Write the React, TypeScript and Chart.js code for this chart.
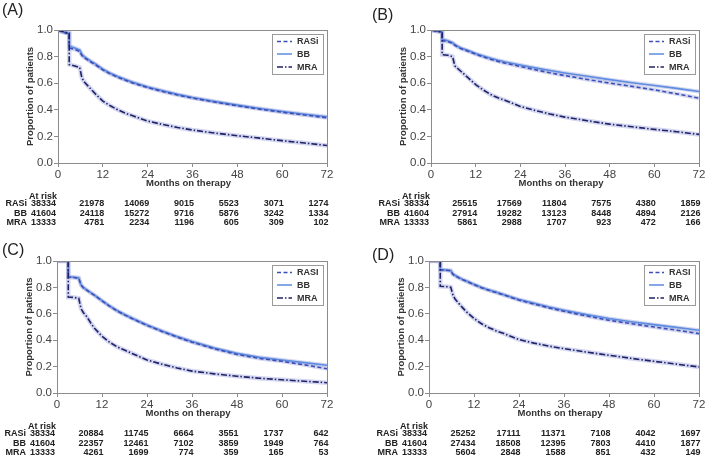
import React, { useEffect, useRef } from "react";
import { Chart, registerables } from "chart.js";
Chart.register(...registerables);

// ---------- DATA ----------
const months = [0, 1, 3, 3, 4.5, 5.8, 6.4, 7, 8, 9, 10, 12, 14, 16, 18, 20, 24, 28, 32, 36, 42, 48, 54, 60, 66, 72];
const xTicks = [0, 12, 24, 36, 48, 60, 72];
const rowNames = ["RASi", "BB", "MRA"];

// Panel A
const aRASi = [1.0, 0.985, 0.97, 0.865, 0.853, 0.84, 0.808, 0.793, 0.774, 0.756, 0.739, 0.7, 0.67, 0.645, 0.623, 0.602, 0.567, 0.538, 0.511, 0.488, 0.458, 0.43, 0.405, 0.382, 0.361, 0.34];
const aBB = [1.0, 0.99, 0.975, 0.88, 0.865, 0.85, 0.815, 0.8, 0.78, 0.762, 0.745, 0.705, 0.675, 0.65, 0.628, 0.607, 0.572, 0.543, 0.516, 0.493, 0.463, 0.435, 0.41, 0.387, 0.367, 0.348];
const aMRA = [1.0, 0.99, 0.975, 0.74, 0.73, 0.718, 0.64, 0.61, 0.58, 0.55, 0.52, 0.465, 0.43, 0.4, 0.375, 0.355, 0.315, 0.29, 0.267, 0.248, 0.225, 0.205, 0.187, 0.168, 0.15, 0.132];
const aRiskRASi = [38334, 21978, 14069, 9015, 5523, 3071, 1274];
const aRiskBB = [41604, 24118, 15272, 9716, 5876, 3242, 1334];
const aRiskMRA = [13333, 4781, 2234, 1196, 605, 309, 102];

// Panel B
const bRASi = [1.0, 0.995, 0.985, 0.92, 0.912, 0.9, 0.885, 0.875, 0.86, 0.85, 0.84, 0.818, 0.798, 0.78, 0.764, 0.75, 0.726, 0.701, 0.678, 0.657, 0.628, 0.601, 0.576, 0.55, 0.52, 0.487];
const bBB = [1.0, 0.995, 0.985, 0.93, 0.92, 0.905, 0.89, 0.88, 0.865, 0.855, 0.845, 0.823, 0.805, 0.788, 0.773, 0.76, 0.737, 0.715, 0.695, 0.677, 0.652, 0.627, 0.604, 0.583, 0.561, 0.538];
const bMRA = [1.0, 0.995, 0.985, 0.815, 0.81, 0.8, 0.73, 0.715, 0.69, 0.665, 0.64, 0.59, 0.55, 0.515, 0.49, 0.47, 0.425, 0.395, 0.368, 0.345, 0.318, 0.292, 0.272, 0.253, 0.235, 0.215];
const bRiskRASi = [38334, 25515, 17569, 11804, 7575, 4380, 1859];
const bRiskBB = [41604, 27914, 19282, 13123, 8448, 4894, 2126];
const bRiskMRA = [13333, 5861, 2988, 1707, 923, 472, 166];

// Panel C
const cRASi = [1.0, 1.0, 1.0, 0.878, 0.875, 0.87, 0.818, 0.798, 0.778, 0.758, 0.74, 0.698, 0.658, 0.622, 0.592, 0.564, 0.512, 0.466, 0.424, 0.385, 0.335, 0.292, 0.262, 0.24, 0.213, 0.184];
const cBB = [1.0, 1.0, 1.0, 0.88, 0.877, 0.872, 0.82, 0.8, 0.78, 0.76, 0.742, 0.7, 0.66, 0.625, 0.595, 0.567, 0.515, 0.47, 0.428, 0.39, 0.34, 0.3, 0.27, 0.25, 0.23, 0.21];
const cMRA = [1.0, 1.0, 1.0, 0.727, 0.724, 0.718, 0.64, 0.61, 0.576, 0.53, 0.49, 0.43, 0.385, 0.35, 0.325, 0.3, 0.25, 0.218, 0.19, 0.166, 0.145, 0.127, 0.112, 0.1, 0.089, 0.078];
const cRiskRASi = [38334, 20884, 11745, 6664, 3551, 1737, 642];
const cRiskBB = [41604, 22357, 12461, 7102, 3859, 1949, 764];
const cRiskMRA = [13333, 4261, 1699, 774, 359, 165, 53];

// Panel D
const dRASi = [1.0, 1.0, 1.0, 0.933, 0.93, 0.926, 0.898, 0.888, 0.872, 0.858, 0.846, 0.821, 0.797, 0.778, 0.76, 0.742, 0.704, 0.674, 0.645, 0.619, 0.583, 0.551, 0.525, 0.5, 0.476, 0.45];
const dBB = [1.0, 1.0, 1.0, 0.935, 0.932, 0.928, 0.9, 0.89, 0.874, 0.86, 0.848, 0.823, 0.8, 0.78, 0.763, 0.745, 0.708, 0.68, 0.652, 0.627, 0.594, 0.564, 0.54, 0.518, 0.497, 0.475];
const dMRA = [1.0, 1.0, 1.0, 0.808, 0.806, 0.802, 0.74, 0.71, 0.677, 0.645, 0.614, 0.565, 0.525, 0.495, 0.47, 0.45, 0.405, 0.378, 0.355, 0.336, 0.31, 0.286, 0.262, 0.24, 0.219, 0.197];
const dRiskRASi = [38334, 25252, 17111, 11371, 7108, 4042, 1697];
const dRiskBB = [41604, 27434, 18508, 12395, 7803, 4410, 1877];
const dRiskMRA = [13333, 5604, 2848, 1588, 851, 432, 149];

// ---------- STYLE / LAYOUT ----------
const FONT = '"Liberation Sans", Arial, Helvetica, sans-serif';
const COL_RASI = "#3b4fb8";
const COL_BB = "#5c8de0";
const COL_MRA = "#1f2266";
const HALO = "rgba(160,166,220,0.45)";
const DASH_RASI = [4, 2.5];
const DASH_MRA = [6, 2, 1.5, 2];

const panels = [
  { id: "(A)", legend: ["RASi", "BB", "MRA"], rasi: aRASi, bb: aBB, mra: aMRA, risk: [aRiskRASi, aRiskBB, aRiskMRA],
    left: 0, top: 0, w: 354, h: 230, pl: 58, pr: 327, pt: 30, pb: 163, labX: 2, labY: 3 },
  { id: "(B)", legend: ["RASi", "BB", "MRA"], rasi: bRASi, bb: bBB, mra: bMRA, risk: [bRiskRASi, bRiskBB, bRiskMRA],
    left: 355, top: 0, w: 354, h: 230, pl: 431, pr: 699, pt: 30, pb: 163, labX: 17, labY: 8 },
  { id: "(C)", legend: ["RASI", "BB", "MRA"], rasi: cRASi, bb: cBB, mra: cMRA, risk: [cRiskRASi, cRiskBB, cRiskMRA],
    left: 0, top: 230, w: 354, h: 230, pl: 57, pr: 327, pt: 261, pb: 393, labX: 2, labY: 13 },
  { id: "(D)", legend: ["RASI", "BB", "MRA"], rasi: dRASi, bb: dBB, mra: dMRA, risk: [dRiskRASi, dRiskBB, dRiskMRA],
    left: 355, top: 230, w: 354, h: 230, pl: 429, pr: 699, pt: 261, pb: 393, labX: 17, labY: 18 },
];

const pts = (vals: number[]) => months.map((m, i) => ({ x: m, y: vals[i] }));

function makePlugin(p: any) {
  return {
    id: "panelDecor",
    afterDraw(chart: any) {
      const ctx = chart.ctx;
      const a = chart.chartArea;
      const xs = chart.scales.x;
      ctx.save();
      // frame
      ctx.strokeStyle = "#8c8c8c";
      ctx.lineWidth = 1;
      ctx.setLineDash([]);
      ctx.strokeRect(Math.round(a.left) + 0.5, Math.round(a.top) + 0.5, Math.round(a.right - a.left), Math.round(a.bottom - a.top));

      // legend
      const lw = 51, lh = 40;
      const lx = Math.round(a.right - 4 - lw), ly = Math.round(a.top + 4);
      ctx.fillStyle = "#ffffff";
      ctx.fillRect(lx, ly, lw, lh);
      ctx.strokeStyle = "#9a9a9a";
      ctx.strokeRect(lx + 0.5, ly + 0.5, lw, lh);
      const legendStyles = [
        { c: COL_RASI, d: DASH_RASI },
        { c: COL_BB, d: [] },
        { c: COL_MRA, d: DASH_MRA },
      ];
      const rowsY = [7.5, 20, 33];
      ctx.font = `bold 9px ${FONT}`;
      ctx.textAlign = "left";
      ctx.textBaseline = "middle";
      legendStyles.forEach((s, i) => {
        const y = ly + rowsY[i];
        ctx.strokeStyle = s.c;
        ctx.lineWidth = 1.5;
        ctx.setLineDash(s.d);
        ctx.beginPath();
        ctx.moveTo(lx + 5, y);
        ctx.lineTo(lx + 20, y);
        ctx.stroke();
        ctx.setLineDash([]);
        ctx.fillStyle = "#333";
        ctx.fillText(p.legend[i], lx + 25, y + 0.5);
      });

      // axis titles
      ctx.fillStyle = "#333";
      ctx.font = `bold 9.5px ${FONT}`;
      ctx.textAlign = "center";
      ctx.textBaseline = "middle";
      ctx.fillText("Months on therapy", (a.left + a.right) / 2 - 4, a.bottom + 20);
      ctx.save();
      ctx.translate(a.left - 28, (a.top + a.bottom) / 2);
      ctx.rotate(-Math.PI / 2);
      ctx.fillText("Proportion of patients", 0, 0);
      ctx.restore();

      // panel label
      ctx.font = `16px ${FONT}`;
      ctx.textAlign = "left";
      ctx.textBaseline = "top";
      ctx.fillStyle = "#222";
      ctx.fillText(p.id, p.labX, p.labY);

      // at-risk table
      ctx.font = `bold 9px ${FONT}`;
      ctx.textAlign = "right";
      ctx.textBaseline = "middle";
      ctx.fillStyle = "#222";
      ctx.fillText("At risk", a.left - 1, a.bottom + 33.5);
      const offs = [41, 50.5, 60];
      p.risk.forEach((row: number[], i: number) => {
        const y = a.bottom + offs[i];
        ctx.fillText(rowNames[i], a.left - 31, y);
        row.forEach((v, j) => {
          const x = xs.getPixelForValue(xTicks[j]) + (j === 0 ? -2 : 1.5);
          ctx.fillText(String(v), x, y);
        });
      });
      ctx.restore();
    },
  };
}

function Panel({ p }: { p: any }) {
  const ref = useRef<HTMLCanvasElement | null>(null);
  useEffect(() => {
    if (!ref.current) return;
    const line = (label: string, vals: number[], color: string, dash: number[], width: number) => ({
      label,
      data: pts(vals),
      borderColor: color,
      backgroundColor: color,
      borderDash: dash,
      borderWidth: width,
      pointRadius: 0,
      fill: false,
      tension: 0,
    });
    const chart = new Chart(ref.current, {
      type: "line",
      data: {
        datasets: [
          line("MRA", p.mra, COL_MRA, DASH_MRA, 1.6),
          line("RASi", p.rasi, COL_RASI, DASH_RASI, 1.6),
          line("BB", p.bb, COL_BB, [], 1.6),
          line("MRA band", p.mra, HALO, [], 4.5),
          line("RASi band", p.rasi, HALO, [], 4),
          line("BB band", p.bb, HALO, [], 4),
        ],
      },
      options: {
        responsive: false,
        animation: false,
        devicePixelRatio: 1,
        layout: {
          padding: {
            left: 0,
            top: p.pt - p.top,
            right: p.left + p.w - p.pr,
            bottom: p.top + p.h - p.pb - 26,
          },
        },
        plugins: { legend: { display: false }, tooltip: { enabled: false } },
        scales: {
          x: {
            type: "linear",
            min: 0,
            max: 72,
            afterBuildTicks: (s: any) => {
              s.ticks = xTicks.map((v) => ({ value: v }));
            },
            afterFit: (s: any) => {
              s.height = 26;
            },
            grid: { drawOnChartArea: false, drawTicks: true, tickLength: 4, color: "#8c8c8c" },
            border: { display: false },
            ticks: { font: { size: 11.5, family: FONT }, color: "#444", padding: 1, maxRotation: 0, autoSkip: false },
          },
          y: {
            min: 0,
            max: 1,
            afterBuildTicks: (s: any) => {
              s.ticks = [0, 0.2, 0.4, 0.6, 0.8, 1.0].map((v) => ({ value: v }));
            },
            afterFit: (s: any) => {
              s.width = p.pl - p.left;
            },
            grid: { drawOnChartArea: false, drawTicks: true, tickLength: 4, color: "#8c8c8c" },
            border: { display: false },
            ticks: {
              font: { size: 11.5, family: FONT },
              color: "#444",
              padding: 1,
              callback: (v: any) => Number(v).toFixed(1),
            },
          },
        },
      } as any,
      plugins: [makePlugin(p)],
    } as any);
    return () => chart.destroy();
  }, [p]);
  return (
    <canvas
      ref={ref}
      width={p.w}
      height={p.h}
      style={{ position: "absolute", left: p.left, top: p.top, width: p.w, height: p.h }}
    />
  );
}

export default function App() {
  return (
    <div style={{ position: "absolute", left: 0, top: 0, width: 709, height: 460, background: "#fff", overflow: "hidden" }}>
      {panels.map((p) => (
        <Panel key={p.id} p={p} />
      ))}
    </div>
  );
}
